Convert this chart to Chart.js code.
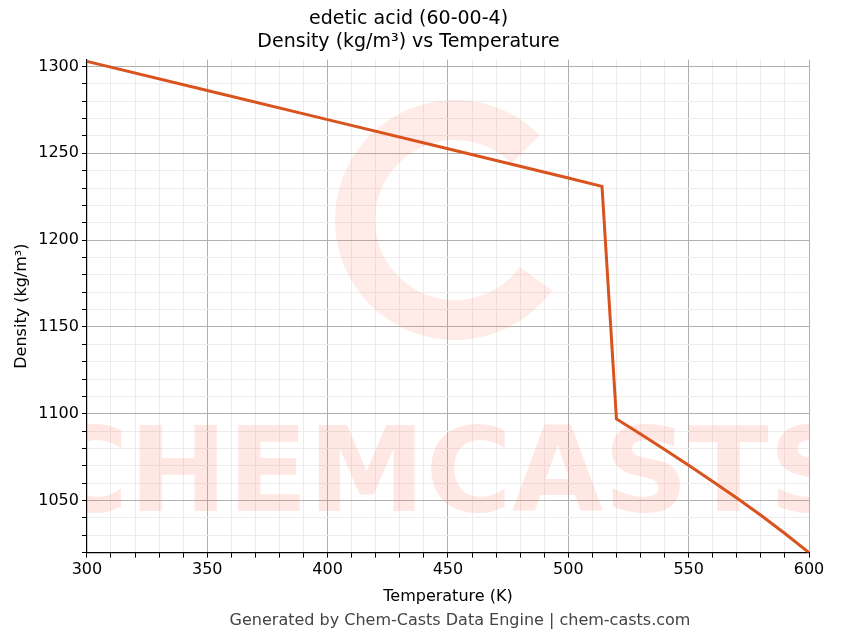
<!DOCTYPE html>
<html><head><script src="https://cdn.jsdelivr.net/npm/chart.js@4"></script>
<style>body{margin:0;background:#fff}#w{width:843px;height:644px;position:relative}</style></head>
<body><div id="w"><canvas id="c"></canvas></div>
<script>
const temps=[300,350,400,450,500,514,520,530,540,550,560,570,580,590,600];
const dens=[1303,1286.2,1269.4,1252.6,1235.8,1231,1097,1088.3,1079.4,1070.3,1061,1051.4,1041.5,1031,1020];
const title=['edetic acid (60-00-4)','Density (kg/m³) vs Temperature'];
const footer='Generated by Chem-Casts Data Engine | chem-casts.com';
const wm={id:'wm',beforeDatasetsDraw(ch){const a=ch.chartArea,x=ch.ctx;x.save();x.beginPath();x.rect(a.left,a.top,a.right-a.left,a.bottom-a.top);x.clip();
x.fillStyle='rgba(255,120,100,0.18)';x.font='bold 118px "DejaVu Sans"';x.textAlign='center';x.textBaseline='middle';x.fillText('CHEMCASTS',(a.left+a.right)/2,480);
x.strokeStyle='rgba(255,120,100,0.15)';x.lineWidth=40;x.beginPath();x.arc(455,220,100,0.2*Math.PI,1.75*Math.PI);x.stroke();x.restore();},
afterDraw(ch){const x=ch.ctx;x.save();x.fillStyle='#444';x.font='16px "DejaVu Sans"';x.textAlign='center';x.fillText(footer,460,625);x.restore();}};
const gc=c=>(c.tick&&Math.round(c.tick.value)%50===0)?'#b0b0b0':'#ececec';
new Chart(document.getElementById('c'),{type:'line',
data:{datasets:[{data:temps.map((t,i)=>({x:t,y:dens[i]})),borderColor:'#d9531e',borderWidth:3,pointRadius:0,tension:0}]},
options:{responsive:true,maintainAspectRatio:false,animation:false,
layout:{padding:{left:8,right:34,top:8,bottom:34}},
plugins:{legend:{display:false},title:{display:true,text:title,color:'#000',font:{size:19,family:'DejaVu Sans',weight:'normal'},padding:{bottom:6}}},
scales:{x:{type:'linear',min:300,max:600,border:{color:'#000',width:1.2},
ticks:{stepSize:10,autoSkip:false,color:'#000',font:{size:16,family:'DejaVu Sans'},maxRotation:0,callback:v=>v%50===0?v:''},
grid:{color:gc,tickColor:'#000',tickLength:5},
title:{display:true,text:'Temperature (K)',color:'#000',font:{size:16,family:'DejaVu Sans'}}},
y:{min:1020,max:1304,border:{color:'#000',width:1.2},
afterBuildTicks:s=>{const t=[];for(let v=1020;v<=1300;v+=10)t.push({value:v});s.ticks=t;},
ticks:{autoSkip:false,color:'#000',font:{size:16,family:'DejaVu Sans'},callback:v=>v%50===0?v:''},
grid:{color:gc,tickColor:'#000',tickLength:5},
title:{display:true,text:'Density (kg/m³)',color:'#000',font:{size:16,family:'DejaVu Sans'}}}}},
plugins:[wm]});
</script></body></html>
